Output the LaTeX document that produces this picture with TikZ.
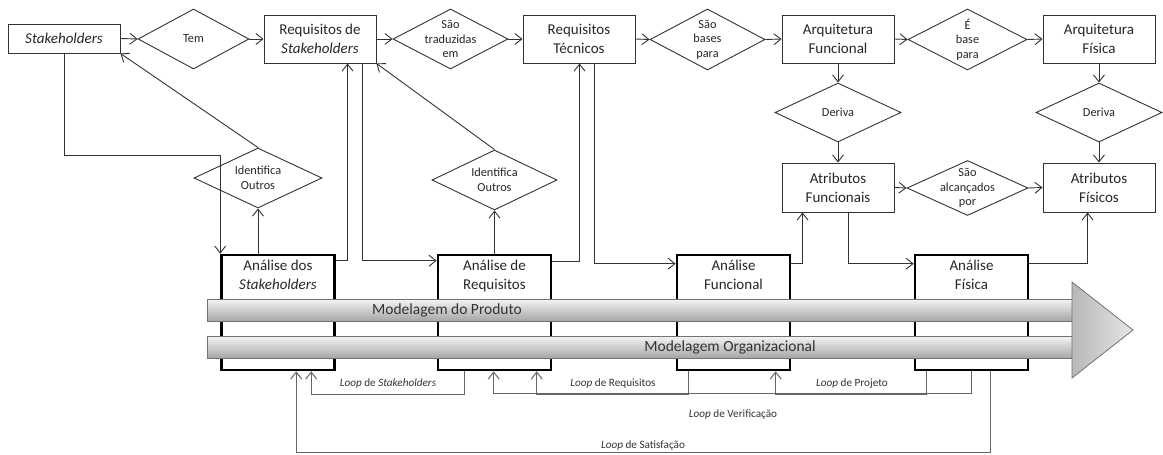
\documentclass[tikz,border=0pt]{standalone}
\usepackage{fontspec}
\setmainfont{Carlito}
\usetikzlibrary{shapes.geometric,arrows.meta,calc}
\begin{document}
\begin{tikzpicture}[x=1pt,y=-1pt,
  every node/.style={text=black!85},
  box/.style={draw=black!80, line width=0.9pt, rectangle, inner sep=0pt, align=center, font=\fontsize{15}{19}\selectfont},
  dia/.style={draw=black!80, line width=0.9pt, diamond, inner sep=0pt},
  dtxt/.style={align=center, inner sep=0pt, font=\fontsize{12.3}{14.5}\selectfont},
  abox/.style={draw=black, line width=2.6pt, rectangle, inner sep=0pt, minimum width=113pt, minimum height=115pt},
  atxt/.style={align=center, inner sep=0pt, font=\fontsize{15}{19}\selectfont},
  conn/.style={draw=black!80, line width=0.9pt, -{Straight Barb[length=7pt,width=11pt]}},
  fb/.style={draw=black!60, line width=1pt, -{Straight Barb[length=7pt,width=11pt]}},
  ltxt/.style={inner sep=1pt, font=\fontsize{11.2}{13}\selectfont, text=black!80},
  bar/.style={rectangle, draw=black!55, line width=0.8pt, top color=black!4, bottom color=black!35, inner sep=0pt, minimum width=865pt, minimum height=22pt},
  bartxt/.style={inner sep=0pt, font=\fontsize{15.5}{18}\selectfont, text=black!80}
]
\useasboundingbox (0,0) rectangle (1163,455);

% top row
\node[box, minimum width=112pt, minimum height=29pt] (stk) at (64,38.5) {\textit{Stakeholders}};
\node[dia, minimum width=111pt, minimum height=60pt, label={[dtxt]center:Tem}] (tem) at (193.5,39) {};
\node[box, minimum width=112pt, minimum height=48pt] (rstk) at (320,39) {Requisitos de\\\textit{Stakeholders}};
\node[dia, minimum width=115pt, minimum height=60pt, label={[dtxt]center:{São\\traduzidas\\em}}] (trad) at (450.5,39) {};
\node[box, minimum width=112pt, minimum height=48pt] (rtec) at (579,39) {Requisitos\\Técnicos};
\node[dia, minimum width=115pt, minimum height=61pt, label={[dtxt]center:{São\\bases\\para}}] (bases) at (707.5,39.5) {};
\node[box, minimum width=112pt, minimum height=48pt] (afun) at (838,39) {Arquitetura\\Funcional};
\node[dia, minimum width=119pt, minimum height=61pt, label={[dtxt]center:{É\\base\\para}}] (base) at (967.5,39.5) {};
\node[box, minimum width=112pt, minimum height=48pt] (afis) at (1099,39) {Arquitetura\\Física};

% second level
\node[dia, minimum width=126pt, minimum height=59pt, label={[dtxt]center:Deriva}] (der1) at (838,112.5) {};
\node[dia, minimum width=126pt, minimum height=59pt, label={[dtxt]center:Deriva}] (der2) at (1099,112.5) {};
\node[box, minimum width=112pt, minimum height=49pt] (atf) at (838,187.5) {Atributos\\Funcionais};
\node[dia, minimum width=121pt, minimum height=55pt, label={[dtxt]center:{São\\alcançados\\por}}] (alc) at (967.5,188) {};
\node[box, minimum width=112pt, minimum height=49pt] (atfis) at (1099,187.5) {Atributos\\Físicos};

\node[dia, minimum width=128pt, minimum height=60pt, label={[dtxt]center:{Identifica\\Outros}}] (id1) at (258,178) {};
\node[dia, minimum width=125pt, minimum height=60pt, label={[dtxt]center:{Identifica\\Outros}}] (id2) at (494.5,180) {};

% analysis boxes
\node[abox, label={[atxt,anchor=north,yshift=-6pt]north:{Análise dos\\\textit{Stakeholders}}}] (ast) at (278,312.5) {};
\node[abox, label={[atxt,anchor=north,yshift=-6pt]north:{Análise de\\Requisitos}}] (areq) at (494.5,312.5) {};
\node[abox, label={[atxt,anchor=north,yshift=-6pt]north:{Análise\\Funcional}}] (afn) at (733.5,312.5) {};
\node[abox, label={[atxt,anchor=north,yshift=-6pt]north:{Análise\\Física}}] (afs) at (971.5,312.5) {};

% top row connectors
\draw[conn] (stk.east) -- (tem.west);
\draw[conn] (tem.east) -- (rstk.west);
\draw[conn] (rstk.east) -- (trad.west);
\draw[conn] (trad.east) -- (rtec.west);
\draw[conn] (rtec.east) -- (bases.west);
\draw[conn] (bases.east) -- (afun.west);
\draw[conn] (afun.east) -- (base.west);
\draw[conn] (base.east) -- (afis.west);
\draw[conn] (afun.south) -- (der1.north);
\draw[conn] (der1.south) -- (atf.north);
\draw[conn] (afis.south) -- (der2.north);
\draw[conn] (der2.south) -- (atfis.north);
\draw[conn] (atf.east) -- (alc.west);
\draw[conn] (alc.east) -- (atfis.west);

\draw[conn] (id1.north) -- (stk.south east);
\draw[conn] (id2.north) -- (rstk.south east);
\draw[conn] (ast.north -| id1.south) -- (id1.south);
\draw[conn] (areq.north -| id2.south) -- (id2.south);

\draw[conn] (stk.south) |- ($(ast.north west)+(0,-98)$) -- (ast.north west);
\draw[conn] ($(ast.north east)+(0,7)$) -| ($(rstk.south west)+(84,0)$);
\draw[conn] ($(rstk.south west)+(99,0)$) |- ($(areq.north west)+(0,7)$);
\draw[conn] ($(areq.north east)+(0,8)$) -| ($(rtec.south west)+(57,0)$);
\draw[conn] ($(rtec.south west)+(72,0)$) |- ($(afn.north west)+(0,10)$);
\draw[conn] ($(afn.north east)+(0,10)$) -| ($(atf.south west)+(21,0)$);
\draw[conn] ($(atf.south west)+(67,0)$) |- ($(afs.north west)+(0,10)$);
\draw[conn] ($(afs.north east)+(0,10)$) -| ($(atfis.south west)+(45,0)$);

% loops
\draw[fb] ($(areq.south west)+(28,0)$) -- ++(0,23) -| ($(ast.south west)+(91,0)$);
\draw[fb] ($(afn.south west)+(13,0)$) -- ++(0,23) -| ($(areq.south west)+(100,0)$);
\draw[fb] ($(afs.south west)+(13,0)$) -- ++(0,23) -| ($(afn.south west)+(100,0)$);
\draw[fb] ($(afs.south west)+(58,0)$) -- ++(0,22) -| ($(areq.south west)+(57,0)$);
\draw[fb] ($(afs.south west)+(77,0)$) -- ++(0,81) -| ($(ast.south west)+(76,0)$);

\node[ltxt] (lstk) at (388,384) {\textit{Loop} de \textit{Stakeholders}};
\node[ltxt] (lreq) at (613,384) {\textit{Loop} de Requisitos};
\node[ltxt] (lproj) at (852,384) {\textit{Loop} de Projeto};
\node[ltxt] (lver) at (733,415) {\textit{Loop} de Verificação};
\node[ltxt] (lsat) at (643,446) {\textit{Loop} de Satisfação};

% bars
\node[bar, anchor=west] (mp) at (207,310) {};
\node[bartxt] (mpt) at (447,310) {Modelagem do Produto};
\node[bar, anchor=west] (mo) at (207,347) {};
\node[bartxt] (mot) at (730,347) {Modelagem Organizacional};
\path[draw=black!55, line width=0.8pt, left color=black!28, right color=black!10] (1072,282) -- (1133,330) -- (1072,378) -- cycle;
\end{tikzpicture}
\end{document}
